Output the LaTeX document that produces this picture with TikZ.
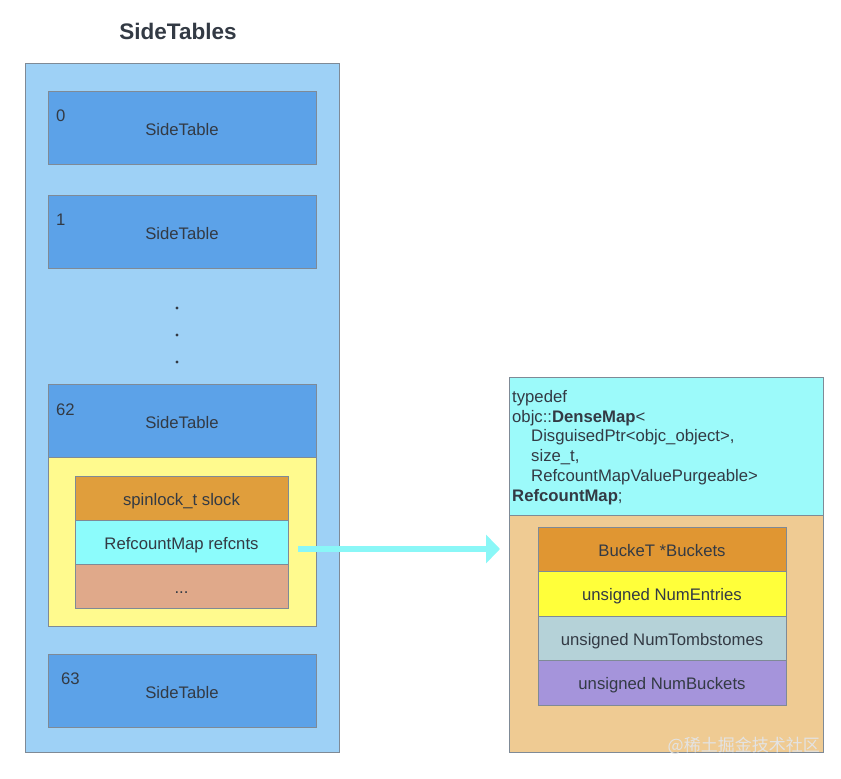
\documentclass[tikz,border=0pt]{standalone}
\usepackage{fontspec}
\setmainfont{Liberation Sans}
\newfontfamily\cjkfont{Noto Sans CJK SC}
\usepackage{xcolor}
\usetikzlibrary{arrows.meta,positioning}

\definecolor{textgray}{HTML}{333A44}
\definecolor{bordergray}{HTML}{7F8A96}
\definecolor{tablesbg}{HTML}{9ED1F6}
\definecolor{tableblue}{HTML}{5CA2E8}
\definecolor{entryyellow}{HTML}{FFFA8E}
\definecolor{lockorange}{HTML}{E09E3C}
\definecolor{refcyan}{HTML}{8CFCFC}
\definecolor{restsalmon}{HTML}{E0A98A}
\definecolor{typecyan}{HTML}{9CFAFA}
\definecolor{maptan}{HTML}{EFCB93}
\definecolor{bucketorange}{HTML}{E09632}
\definecolor{numyellow}{HTML}{FFFF3A}
\definecolor{tombgray}{HTML}{B5D2D8}
\definecolor{numpurple}{HTML}{A594DB}
\definecolor{arrowcyan}{HTML}{8AF7F7}

\begin{document}
\begin{tikzpicture}[x=1pt, y=-1pt, font=\fontsize{16.7}{19.8}\selectfont, text=textgray]
    % Define styles
    \tikzstyle{box} = [rectangle, draw=bordergray, line width=1pt, outer sep=0pt, inner sep=0pt]
    \tikzstyle{sidetable} = [box, fill=tableblue, minimum width=268, minimum height=73, anchor=north west, text height=16pt, text depth=0pt]
    \tikzstyle{field} = [box, minimum width=213, minimum height=44, text height=14pt, text depth=0pt]
    \tikzstyle{member} = [box, minimum width=248, minimum height=44.5, text height=14pt, text depth=0pt]
    \tikzstyle{index} = [anchor=west, inner sep=0pt]
    \tikzstyle{arrow} = [line width=6pt, draw=arrowcyan, -{Triangle[length=14pt, width=28pt]}]

    \useasboundingbox (0,0) rectangle (841,779);

    % Title
    \node [font=\fontsize{22.5}{27}\selectfont\bfseries] (title) at (178,31) {SideTables};

    % SideTables array
    \node [box, fill=tablesbg, minimum width=314, minimum height=689, anchor=north west] (tables) at (25,63) {};
    \node [sidetable] (st0) at (48,91) {SideTable};
    \node [sidetable, below=31pt of st0] (st1) {SideTable};
    \foreach \y in {308,335,362}
        \fill [textgray] (177,\y) circle (1.6pt);
    \node [sidetable, below=116pt of st1] (st62) {SideTable};

    % Entry of SideTable 62
    \node [box, fill=entryyellow, minimum width=268, minimum height=169, below=0pt of st62] (entry) {};
    \node [field, fill=lockorange, anchor=north] (slock) at ([xshift=-0.5pt, yshift=-19pt]entry.north) {spinlock\_t slock};
    \node [field, fill=refcyan, below=0pt of slock] (refcnts) {RefcountMap refcnts};
    \node [field, fill=restsalmon, below=0pt of refcnts] (rest) {...};

    \node [sidetable, below=28pt of entry] (st63) {SideTable};

    % Indices
    \node [index] (idx0) at ([shift={(8,25)}]st0.north west) {0};
    \node [index] (idx1) at ([shift={(8,25)}]st1.north west) {1};
    \node [index] (idx62) at ([shift={(8,26)}]st62.north west) {62};
    \node [index] (idx63) at ([shift={(13,25)}]st63.north west) {63};

    % RefcountMap
    \node [box, fill=typecyan, minimum width=314, minimum height=138, anchor=north west] (typedef) at (509,377) {};
    \node [anchor=north west, align=left, inner sep=0pt] (decl) at ([shift={(3,13)}]typedef.north west)
        {typedef\\
         objc::\textbf{DenseMap}<\\
         \hspace*{19pt}DisguisedPtr<objc\_object>,\\
         \hspace*{19pt}size\_t,\\
         \hspace*{19pt}RefcountMapValuePurgeable>\\
         \textbf{RefcountMap};};
    \node [box, fill=maptan, minimum width=314, minimum height=237, below=0pt of typedef] (densemap) {};
    \node [member, fill=bucketorange, anchor=north] (buckets) at ([xshift=-4pt, yshift=-12pt]densemap.north) {BuckeT *Buckets};
    \node [member, fill=numyellow, below=0pt of buckets] (entries) {unsigned NumEntries};
    \node [member, fill=tombgray, below=0pt of entries] (tombs) {unsigned NumTombstomes};
    \node [member, fill=numpurple, below=0pt of tombs] (numbuckets) {unsigned NumBuckets};

    % Arrow
    \coordinate (from) at ([shift={(10,7)}]refcnts.east);
    \draw [arrow] (from) -- ([xshift=-9pt]from -| densemap.west);

    % Watermark
    \node [font=\cjkfont\fontsize{17}{20}\selectfont, text=white!78!gray, anchor=east, inner sep=0pt] (mark) at (820,746) {@稀土掘金技术社区};
\end{tikzpicture}
\end{document}
